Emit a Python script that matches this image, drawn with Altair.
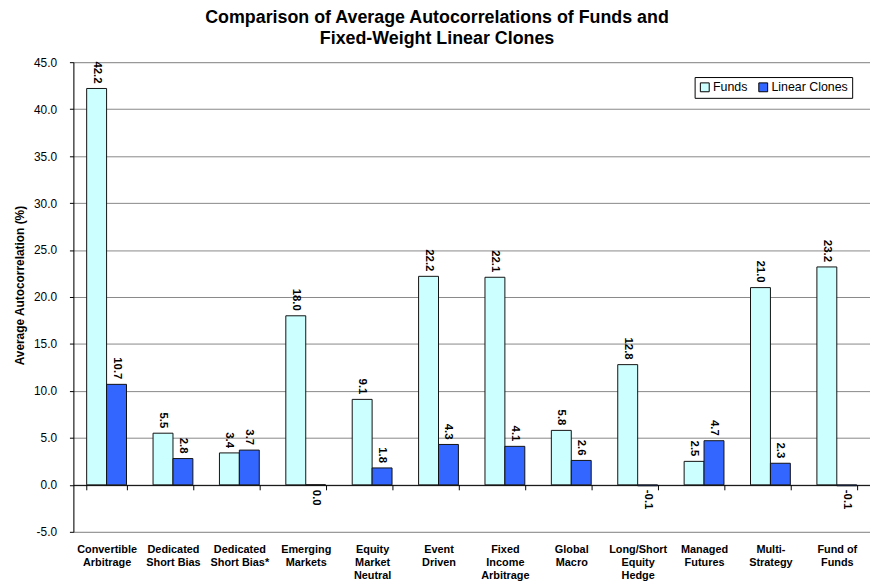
import altair as alt
import pandas as pd

categories = [
    "Convertible|Arbitrage", "Dedicated|Short Bias", "Dedicated|Short Bias*",
    "Emerging|Markets", "Equity|Market|Neutral", "Event|Driven",
    "Fixed|Income|Arbitrage", "Global|Macro", "Long/Short|Equity|Hedge",
    "Managed|Futures", "Multi-|Strategy", "Fund of|Funds",
]
funds = [42.2, 5.5, 3.4, 18.0, 9.1, 22.2, 22.1, 5.8, 12.8, 2.5, 21.0, 23.2]
clones = [10.7, 2.8, 3.7, 0.0, 1.8, 4.3, 4.1, 2.6, -0.1, 4.7, 2.3, -0.1]
series_names = ["Funds", "Linear Clones"]
series_colors = ["#CCFFFF", "#3366FF"]
y_ticks = [-5, 0, 5, 10, 15, 20, 25, 30, 35, 40, 45]

rows = []
for c, f, l in zip(categories, funds, clones):
    rows.append({"cat": c, "series": series_names[0], "value": f})
    rows.append({"cat": c, "series": series_names[1], "value": l})
df = pd.DataFrame(rows)

FONT = "Liberation Sans"
W, H = 804, 474

yscale = alt.Scale(domain=[-5, 45], nice=False, zero=False)
x_enc = alt.X(
    "cat:N", sort=categories,
    scale=alt.Scale(paddingInner=0.4, paddingOuter=0.2),
    axis=alt.Axis(
        title=None, orient="bottom", offset=-H * 5 / 50,
        labelExpr="split(datum.label, '|')", labelAngle=0,
        labelFont=FONT, labelFontSize=11, labelFontWeight="bold", labelColor="#000",
        labelBaseline="top", labelLineHeight=13.5, labelPadding=54,
        labelOverlap=False, labelLimit=200,
        domainColor="#000", domainWidth=1, tickColor="#000", tickSize=5,
        tickBand="extent", grid=False,
    ),
)
xoff = alt.XOffset("series:N", sort=series_names,
                   scale=alt.Scale(paddingInner=0, paddingOuter=0))

base = alt.Chart(df).transform_calculate(
    lbl="replace(format(datum.value, '.1f'), '\u2212', '-')",
    zero="0",
)

bars = base.mark_bar(stroke="#111", strokeWidth=1).encode(
    x=x_enc,
    xOffset=xoff,
    y=alt.Y(
        "value:Q", scale=yscale,
        axis=alt.Axis(
            title="Average Autocorrelation (%)", values=y_ticks,
            labelExpr="replace(format(datum.value, '.1f'), '\u2212', '-')",
            labelFont=FONT, labelFontSize=12, labelColor="#000", labelPadding=13,
            tickSize=4, tickColor="#000", domainColor="#000",
            grid=True, gridColor="#888", gridWidth=1,
            titleFont=FONT, titleFontSize=12, titleFontWeight="bold", titleColor="#000",
            titleX=-54, titleY=225, titleAngle=270, titleAlign="center", titleBaseline="middle",
        ),
    ),
    color=alt.Color(
        "series:N", sort=series_names,
        scale=alt.Scale(domain=series_names, range=series_colors),
        legend=alt.Legend(
            title=None, orient="none", legendX=627, legendY=15, direction="horizontal",
            strokeColor="#000", fillColor="#fff", padding=4,
            symbolType="square", symbolSize=80, symbolStrokeColor="#000",
            symbolStrokeWidth=1, labelFont=FONT, labelFontSize=12.5, labelColor="#000",
            labelOffset=2, columnPadding=8,
        ),
    ),
)

pos = base.transform_filter("datum.value > 0").mark_text(
    angle=90, align="right", baseline="middle", dx=-5,
    font=FONT, fontSize=11.5, fontWeight="bold", color="#000",
).encode(x=x_enc, xOffset=xoff, y=alt.Y("value:Q", scale=yscale), text="lbl:N")

neg = base.transform_filter("datum.value <= 0").mark_text(
    angle=90, align="left", baseline="middle", dx=5,
    font=FONT, fontSize=11.5, fontWeight="bold", color="#000",
).encode(x=x_enc, xOffset=xoff, y=alt.Y("zero:Q", scale=yscale), text="lbl:N")

chart = alt.layer(bars, pos, neg).properties(
    width=W, height=H,
    autosize=alt.AutoSizeParams(type="none"),
    padding={"left": 66, "top": 52, "right": 0, "bottom": 52},
    title=alt.TitleParams(
        text=["Comparison of Average Autocorrelations of Funds and",
              "Fixed-Weight Linear Clones"],
        font=FONT, fontSize=18, fontWeight="bold", color="#000",
        anchor="middle", frame="group", dx=-35, lineHeight=22, offset=8,
    ),
).configure_view(stroke="#888", strokeWidth=1).configure(background="#fff")

chart.save("out.html", embed_options={"renderer": "svg", "actions": False})
